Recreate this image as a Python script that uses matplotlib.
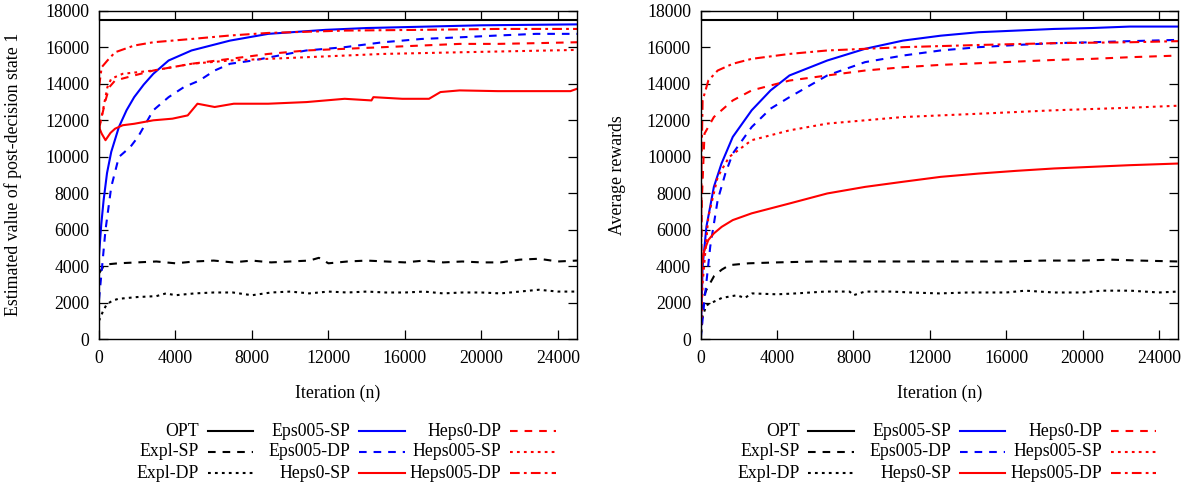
import matplotlib
matplotlib.use("Agg")
import matplotlib.pyplot as plt
from matplotlib.lines import Line2D

plt.rcParams['font.family'] = ['Liberation Serif', 'DejaVu Serif']
plt.rcParams['font.size'] = 12.8
plt.rcParams['lines.scale_dashes'] = False

W, H = 1193, 487
OPT = 17500
X_MAX = 25000
xticks = [0, 4000, 8000, 12000, 16000, 20000, 24000]
yticks = list(range(0, 18001, 2000))

# ---- left panel: estimated value of post-decision state 1 ----
v_expl_sp_x = [0, 250, 500, 1000, 2000, 3000, 4000, 5000, 6000, 7000, 8000, 9000, 10000, 11000, 11500,
               12000, 13000, 14000, 15000, 16000, 17000, 18000, 19000, 20000, 21000, 22000, 23000, 24000, 25000]
v_expl_sp_y = [3600, 4000, 4100, 4150, 4200, 4250, 4150, 4250, 4300, 4200, 4300, 4200, 4250, 4300, 4450,
               4150, 4250, 4300, 4250, 4200, 4300, 4200, 4250, 4200, 4200, 4350, 4400, 4250, 4300]

v_expl_dp_x = [0, 200, 400, 700, 1000, 1500, 2000, 3000, 3500, 4000, 5000, 6000, 7000, 8000, 9000, 10000,
               11000, 12000, 13000, 14000, 15000, 16000, 17000, 18000, 19000, 20000, 21000, 22000, 23000, 24000, 25000]
v_expl_dp_y = [1000, 1500, 1900, 2100, 2200, 2250, 2300, 2350, 2500, 2400, 2500, 2550, 2550, 2400, 2550, 2600,
               2500, 2600, 2550, 2600, 2550, 2550, 2600, 2500, 2550, 2550, 2500, 2600, 2700, 2600, 2600]

v_eps_sp_x = [0, 120, 240, 420, 640, 1040, 1440, 1840, 2340, 2840, 3640, 4840, 6850, 8850, 11850, 14000, 16000, 20000, 25000]
v_eps_sp_y = [4600, 6300, 7600, 9100, 10260, 11620, 12540, 13260, 13950, 14540, 15270, 15820, 16360, 16730, 16950, 17050, 17100, 17200, 17250]

v_eps_dp_x = [0, 340, 640, 1040, 1640, 2040, 2840, 3640, 4440, 5250, 6050, 6850, 8050, 9850, 10850, 12850,
              14850, 16860, 18860, 20860, 22860, 25000]
v_eps_dp_y = [2150, 5980, 8340, 9980, 10530, 11080, 12540, 13260, 13810, 14170, 14720, 15090, 15270, 15630, 15820, 16000,
              16270, 16450, 16540, 16640, 16730, 16730]

v_h0_sp_x = [0, 140, 340, 600, 840, 1240, 1840, 2840, 3840, 4640, 5150, 6050, 7050, 8850, 10850, 12850,
             14250, 14350, 15860, 17260, 17860, 18860, 20860, 22860, 24660, 25000]
v_h0_sp_y = [11620, 11260, 10900, 11300, 11530, 11720, 11800, 11990, 12080, 12260, 12900, 12720, 12900, 12900, 12990, 13170,
             13080, 13260, 13170, 13170, 13540, 13630, 13590, 13590, 13590, 13720]

v_h0_dp_x = [0, 140, 340, 540, 840, 1840, 2840, 4840, 6850, 8850, 10850, 12850, 14850, 16860, 18860, 20860, 22860, 25000]
v_h0_dp_y = [11500, 12170, 13080, 13810, 14170, 14450, 14720, 15090, 15360, 15630, 15820, 15910, 16000, 16090, 16180, 16180, 16220, 16270]

v_h005_sp_x = [0, 240, 440, 640, 1240, 2840, 4840, 6850, 10850, 14850, 18860, 25000]
v_h005_sp_y = [11500, 12720, 13810, 14270, 14540, 14720, 15090, 15270, 15450, 15630, 15720, 15850]

v_h005_dp_x = [0, 140, 440, 840, 1840, 2840, 4840, 6850, 8850, 12850, 16860, 20860, 25000]
v_h005_dp_y = [13810, 14900, 15270, 15720, 16090, 16270, 16450, 16640, 16780, 16910, 16950, 17000, 17000]

# ---- right panel: average rewards ----
r_expl_sp_x = [0, 100, 300, 700, 1100, 1500, 2500, 4000, 6000, 8000, 10000, 12000, 14000, 16000, 18000,
               20000, 21500, 23000, 25000]
r_expl_sp_y = [0, 2150, 2700, 3450, 3800, 4050, 4150, 4200, 4250, 4250, 4250, 4250, 4250, 4250, 4300,
               4300, 4350, 4300, 4250]

r_expl_dp_x = [0, 100, 300, 700, 1100, 1900, 2300, 2700, 4000, 5000, 6500, 7800, 8000, 8600, 10000, 11000,
               12500, 14000, 16000, 17000, 18500, 20000, 21000, 22500, 24000, 25000]
r_expl_dp_y = [0, 1250, 1850, 2050, 2250, 2400, 2250, 2500, 2450, 2500, 2600, 2600, 2400, 2600, 2600, 2550,
               2500, 2550, 2550, 2650, 2550, 2550, 2650, 2650, 2550, 2600]

r_eps_sp_x = [0, 100, 300, 690, 1090, 1680, 2670, 3660, 4650, 6630, 8610, 10590, 12570, 14550, 16530, 18510, 20490, 22470, 25000]
r_eps_sp_y = [0, 3970, 6160, 8340, 9620, 11080, 12540, 13630, 14450, 15270, 15910, 16360, 16630, 16820, 16910, 17000, 17050, 17130, 17130]

r_eps_dp_x = [0, 200, 500, 890, 1290, 1680, 2670, 3660, 4650, 6630, 8610, 10590, 12570, 14550, 16530, 18510, 20490, 22470, 25000]
r_eps_dp_y = [0, 2150, 5070, 7620, 9070, 10170, 11620, 12630, 13260, 14450, 15180, 15540, 15820, 16000, 16120, 16220, 16270, 16330, 16400]

r_h0_sp_x = [0, 60, 140, 400, 690, 1100, 1680, 2670, 4650, 6630, 8610, 10590, 12570, 14550, 16530, 18510, 20490, 22470, 25000]
r_h0_sp_y = [0, 3970, 4700, 5430, 5790, 6150, 6520, 6890, 7430, 7980, 8340, 8620, 8890, 9070, 9220, 9350, 9440, 9530, 9620]

r_h0_dp_x = [0, 60, 200, 690, 1680, 2670, 4650, 6630, 8610, 10590, 12570, 14550, 16530, 18510, 20490, 22470, 25000]
r_h0_dp_y = [0, 7620, 11260, 12170, 13080, 13630, 14170, 14450, 14720, 14900, 15030, 15120, 15210, 15300, 15360, 15450, 15540]

r_h005_sp_x = [0, 100, 400, 890, 1490, 2670, 4650, 6630, 8610, 10590, 14550, 18510, 22470, 25000]
r_h005_sp_y = [0, 3060, 6700, 8890, 9980, 10900, 11440, 11810, 11990, 12170, 12350, 12540, 12680, 12790]

r_h005_dp_x = [0, 40, 100, 400, 890, 1680, 2670, 4650, 6630, 8610, 10590, 14550, 18510, 22470, 25000]
r_h005_dp_y = [0, 9440, 13080, 14170, 14720, 15090, 15360, 15630, 15820, 15910, 16000, 16120, 16220, 16270, 16330]

DASHED = (0, (5.5, 5))
DOTTED = (0, (2, 3))
DASHDOT = (0, (7, 3, 2, 3))
styles = {
    'OPT': ('black', '-'),
    'Expl-SP': ('black', DASHED),
    'Expl-DP': ('black', DOTTED),
    'Eps005-SP': ('#0000ff', '-'),
    'Eps005-DP': ('#0000ff', DASHED),
    'Heps0-SP': ('#ff0000', '-'),
    'Heps0-DP': ('#ff0000', DASHED),
    'Heps005-SP': ('#ff0000', DOTTED),
    'Heps005-DP': ('#ff0000', DASHDOT),
}
order = ['OPT', 'Expl-SP', 'Expl-DP', 'Eps005-SP', 'Eps005-DP', 'Heps0-SP', 'Heps0-DP', 'Heps005-SP', 'Heps005-DP']

left_series = {
    'Expl-SP': (v_expl_sp_x, v_expl_sp_y), 'Expl-DP': (v_expl_dp_x, v_expl_dp_y),
    'Eps005-SP': (v_eps_sp_x, v_eps_sp_y), 'Eps005-DP': (v_eps_dp_x, v_eps_dp_y),
    'Heps0-SP': (v_h0_sp_x, v_h0_sp_y), 'Heps0-DP': (v_h0_dp_x, v_h0_dp_y),
    'Heps005-SP': (v_h005_sp_x, v_h005_sp_y), 'Heps005-DP': (v_h005_dp_x, v_h005_dp_y),
}
right_series = {
    'Expl-SP': (r_expl_sp_x, r_expl_sp_y), 'Expl-DP': (r_expl_dp_x, r_expl_dp_y),
    'Eps005-SP': (r_eps_sp_x, r_eps_sp_y), 'Eps005-DP': (r_eps_dp_x, r_eps_dp_y),
    'Heps0-SP': (r_h0_sp_x, r_h0_sp_y), 'Heps0-DP': (r_h0_dp_x, r_h0_dp_y),
    'Heps005-SP': (r_h005_sp_x, r_h005_sp_y), 'Heps005-DP': (r_h005_dp_x, r_h005_dp_y),
}

LW = 1.5
fig = plt.figure(figsize=(W / 100, H / 100), dpi=100)


def px_box(x0, y0, x1, y1):
    return [x0 / W, 1 - y1 / H, (x1 - x0) / W, (y1 - y0) / H]


def draw_panel(ax, series, ylabel, ylabel_x):
    ax.axhline(OPT, color='black', lw=LW)
    for name in order[1:]:
        xs, ys = series[name]
        color, ls = styles[name]
        ax.plot(xs, ys, color=color, linestyle=ls, lw=LW)
    ax.set_xlim(0, X_MAX)
    ax.set_ylim(0, 18000)
    ax.set_xticks(xticks)
    ax.set_yticks(yticks)
    ax.tick_params(direction='in', length=6.5, width=0.9, top=True, right=True)
    ax.tick_params(axis='x', pad=8)
    ax.tick_params(axis='y', pad=7)
    for s in ax.spines.values():
        s.set_linewidth(1.0)
    ax.set_xlabel('Iteration (n)', va='center')
    ax.xaxis.set_label_coords(0.5, -54 / 328.3)
    ax.set_ylabel(ylabel, va='center')
    ax.yaxis.set_label_coords(ylabel_x, 0.5)


def draw_key(offset):
    text_right = [199, 350.7, 501.7]
    rows = [431, 452, 473]
    for i, name in enumerate(order):
        col, row = divmod(i, 3)
        xr = text_right[col] + offset
        y = rows[row]
        fig.text(xr / W, 1 - y / H, name, ha='right', va='center')
        color, ls = styles[name]
        fig.add_artist(Line2D([(xr + 8.5) / W, (xr + 54) / W], [1 - y / H, 1 - y / H],
                              transform=fig.transFigure, color=color, linestyle=ls, lw=LW))


ax1 = fig.add_axes(px_box(99, 10.7, 577, 339))
draw_panel(ax1, left_series, 'Estimated value of post-decision state 1', (13.3 - 99) / 478)
draw_key(0)

ax2 = fig.add_axes(px_box(700.7, 10.7, 1178, 339))
draw_panel(ax2, right_series, 'Average rewards', (617 - 700.7) / 477.3)
draw_key(600.5)

fig.savefig('out.png', dpi=100)
